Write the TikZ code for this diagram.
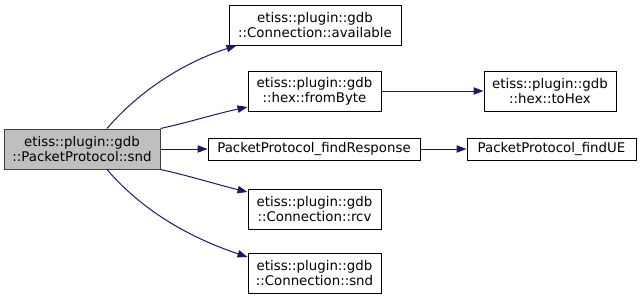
\documentclass[tikz,border=0pt]{standalone}
\usepackage{fontspec}
\setmainfont{DejaVu Sans}
\usetikzlibrary{arrows.meta}
\definecolor{edgeblue}{HTML}{191970}
\definecolor{rootfill}{HTML}{BFBFBF}
\definecolor{rootdraw}{HTML}{404040}
\tikzset{
  fnbox/.style={draw=black, line width=0.75pt, fill=white, inner sep=0pt,
    align=center, font=\fontsize{10}{11}\selectfont},
  rootbox/.style={fnbox, fill=rootfill, draw=rootdraw},
  calledge/.style={draw=edgeblue, line width=0.75pt,
    -{Triangle[length=7.5pt, width=5.5pt]}}
}
\begin{document}
\begin{tikzpicture}[x=0.75pt, y=-0.75pt]
  \useasboundingbox (0,0) rectangle (640,300);
  % caller
  \node[rootbox, minimum width=156*0.75pt, minimum height=40*0.75pt] (root) at (82,149)
    {etiss::plugin::gdb\\::PacketProtocol::snd};
  % callees
  \node[fnbox, minimum width=172*0.75pt, minimum height=40*0.75pt] (avail) at (315,25)
    {etiss::plugin::gdb\\::Connection::available};
  \node[fnbox, minimum width=133*0.75pt, minimum height=40*0.75pt] (fromb) at (314.5,91)
    {etiss::plugin::gdb\\::hex::fromByte};
  \node[fnbox, minimum width=132*0.75pt, minimum height=40*0.75pt] (tohex) at (550,91)
    {etiss::plugin::gdb\\::hex::toHex};
  \node[fnbox, minimum width=212*0.75pt, minimum height=22*0.75pt] (findr) at (314,149)
    {PacketProtocol\_findResponse};
  \node[fnbox, minimum width=169*0.75pt, minimum height=22*0.75pt] (findue) at (551.5,149)
    {PacketProtocol\_findUE};
  \node[fnbox, minimum width=133*0.75pt, minimum height=40*0.75pt] (rcv) at (314.5,209)
    {etiss::plugin::gdb\\::Connection::rcv};
  \node[fnbox, minimum width=133*0.75pt, minimum height=40*0.75pt] (csnd) at (314.5,273)
    {etiss::plugin::gdb\\::Connection::snd};
  % call edges
  \draw[calledge] ([xshift=25*0.75pt]root.north) .. controls (140,90) and (185,62) .. ([xshift=8*0.75pt]avail.south west);
  \draw[calledge] (root.north east) .. controls (190,122) and (215,114) .. ([yshift=-16*0.75pt]fromb.west);
  \draw[calledge] (root.east) -- (findr.west);
  \draw[calledge] (root.south east) .. controls (190,176) and (215,184) .. ([yshift=17*0.75pt]rcv.west);
  \draw[calledge] ([xshift=25*0.75pt]root.south) .. controls (140,208) and (185,236) .. ([yshift=16*0.75pt]csnd.west);
  \draw[calledge] (fromb.east) -- (tohex.west);
  \draw[calledge] (findr.east) -- (findue.west);
\end{tikzpicture}
\end{document}
